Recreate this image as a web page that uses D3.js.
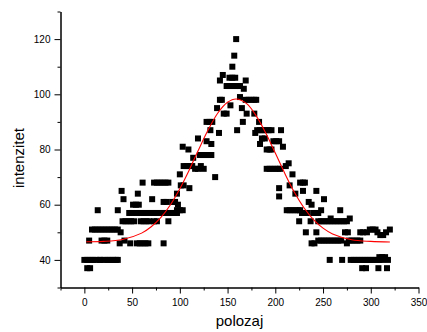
<!DOCTYPE html>
<html>
<head>
<meta charset="utf-8">
<script src="https://cdn.jsdelivr.net/npm/d3@7"></script>
<style>
  html, body { margin: 0; padding: 0; background: #fff; }
  svg { display: block; }
  text { font-family: "Liberation Sans", Arial, sans-serif; }
</style>
</head>
<body>
<svg id="chart" width="427" height="332"></svg>
<script>
// ---- data ----
const polozaj = [
  0,3,6,9,12,16,17, 3,6, 5,
  8,11,14,17,20,23,26,29,32,35,38, 14, 18,21,24,
  21,24,27,30,33,35, 35, 39,41, 37,42,
  40,43,46,49,52, 47,50, 51,54,57, 56, 48,
  55,58,61,64,67, 61, 59,62,65,68,
  55,58,61,64,67,70,73,76,79,82,85,88,91,94,97,
  71, 73,76, 73,76,79,82,85,88, 83, 83,86, 88,
  92,95,98, 97,100,103, 97, 100, 101,104, 103,
  104,107,110,113, 109, 110, 114, 119, 116,119,122,125, 128,
  128,131,134, 121,124,127,130,133, 132, 133, 137, 139, 141,
  142,144, 142, 146,149, 145, 152,155,158, 149,152,155,158,161,163,
  153, 155, 157, 159, 160, 163, 165, 166, 167, 169, 170,
  169,172,175,178,180, 178, 179, 183, 181,184,187,190,193,196,
  184, 186,189, 191,194,196, 198,201,204, 206, 208,
  191,194,197,200,203,205, 204, 204, 211, 214, 218, 215,
  212,215,218,221,224,226, 226,229,231, 221, 225, 229,
  228,231,234, 232, 235,238, 237, 238,241, 243, 240,243,245, 243,
  248, 251, 245,248,251,254,257,260,263,
  245,248,251,254,257,260,263,266,269, 257, 258, 268, 270,
  266,269,272,275, 273,276, 278, 275, 277,280,283,286,289,
  279,282,285,288,291,294,297,300,303,306,309,312,
  291,295,308,317, 289,292,296, 299,302,305, 307,310,313,316,
  309,312,315, 318, 320
];
const intenzitet = [
  40,40,40,40,40,40,40, 37,37, 47,
  51,51,51,51,51,51,51,51,51,51,50, 58, 47,47,47,
  40,40,40,40,40,40, 58, 65,62, 46,47,
  54,54,54,54,54, 57,57, 60,60,60, 64, 46,
  46,46,46,46,46, 68, 54,54,54,54,
  57,57,57,57,57,57,57,57,57,57,57,57,57,57,57,
  62, 54,54, 68,68,68,68,68,68, 46, 61,61, 54,
  61,61,60, 58,58,58, 64, 71, 67,67, 81,
  74,74,74,74, 80, 66, 77, 84, 73,73,74,73, 83,
  90,90,90, 78,78,78,78,78, 87, 82, 70, 95, 86,
  98,98, 105, 93,93, 107, 106,106,106, 103,103,103,103,103,103,
  96, 110, 114, 120, 87, 99, 95, 90, 102, 105, 93,
  98,98,98,98,98, 93, 86, 90, 87,87,87,87,87,87,
  82, 84,84, 80,80,80, 83,83,83, 87, 81,
  73,73,73,73,73,73, 66, 63, 74, 75, 71, 67,
  58,58,58,58,58,58, 68,68,68, 64, 54, 65,
  57,57,57, 50, 61,60, 54, 46,46, 65, 57,57,57, 50,
  58, 62, 54,54,54,54,54,54,54,
  47,47,47,47,47,47,47,47,47, 40, 55, 58, 40,
  54,54,54,54, 50,50, 55, 46, 47,47,47,47,47,
  40,40,40,40,40,40,40,40,40,40,40,40,
  37,37,37,37, 50,50,50, 51,51,51, 50,49,49,50,
  41,41,41, 40, 51
];
// Gaussian fit curve, sampled from the red line in the picture
const fitX = [2,20,40,60,70,80,90,100,110,120,130,140,150,159,170,180,190,200,210,220,230,240,250,260,280,300,320];
const fitY = [46.6,46.7,47.4,49.7,52.0,55.3,59.9,65.8,72.7,80.2,87.3,93.3,97.1,98.3,96.6,92.2,86.0,78.7,71.3,64.5,58.9,54.6,51.5,49.4,47.3,46.7,46.5];

const xMajor = [0,50,100,150,200,250,300,350];
const xMinor = [-25,25,75,125,175,225,275,325];
const yMajor = [40,60,80,100,120];
const yMinor = [30,50,70,90,110,130];
const xTitle = "polozaj";
const yTitle = "intenzitet";

// ---- chart ----
const svg = d3.select("#chart");
const x = d3.scaleLinear().domain([-25, 350]).range([60.5, 418.5]);
const y = d3.scaleLinear().domain([30, 130]).range([287.5, 11.5]);

// markers
const pts = polozaj.map((v, i) => [v, intenzitet[i]]);
const ms = 6;
svg.append("g").selectAll("rect").data(pts).join("rect")
  .attr("x", d => x(d[0]) - ms / 2)
  .attr("y", d => y(d[1]) - ms / 2)
  .attr("width", ms).attr("height", ms)
  .attr("fill", "#000");

// fit line
const fit = fitX.map((v, i) => [v, fitY[i]]);
svg.append("path").datum(fit)
  .attr("fill", "none").attr("stroke", "#ff0000").attr("stroke-width", 1.1)
  .attr("d", d3.line().x(d => x(d[0])).y(d => y(d[1])).curve(d3.curveCatmullRom.alpha(0.5)));

// axes
function styleAxis(g) {
  g.selectAll("path.domain").attr("stroke", "#000");
  g.selectAll(".tick line").attr("stroke", "#000");
  g.selectAll(".tick text").attr("fill", "#000").style("font-size", "10px")
    .style("font-family", "'Liberation Sans', Arial, sans-serif");
}
const gxMinor = svg.append("g").attr("transform", "translate(0,287.5)")
  .call(d3.axisBottom(x).tickValues(xMinor).tickSize(3).tickSizeOuter(0).tickFormat(""));
styleAxis(gxMinor);
const gx = svg.append("g").attr("transform", "translate(0,287.5)")
  .call(d3.axisBottom(x).tickValues(xMajor).tickSize(6).tickSizeOuter(0).tickPadding(5).tickFormat(d3.format("d")));
styleAxis(gx);

const gyMinor = svg.append("g").attr("transform", "translate(60.5,0)")
  .call(d3.axisLeft(y).tickValues(yMinor).tickSize(3).tickSizeOuter(0).tickFormat(""));
styleAxis(gyMinor);
const gy = svg.append("g").attr("transform", "translate(60.5,0)")
  .call(d3.axisLeft(y).tickValues(yMajor).tickSize(6).tickSizeOuter(0).tickPadding(4).tickFormat(d3.format("d")));
styleAxis(gy);

// titles
svg.append("text").attr("x", 239.5).attr("y", 326).attr("text-anchor", "middle")
  .style("font-size", "15px").attr("fill", "#000").text(xTitle);
svg.append("text").attr("transform", "translate(24,158) rotate(-90)").attr("text-anchor", "middle")
  .style("font-size", "15px").attr("fill", "#000").text(yTitle);
</script>
</body>
</html>
